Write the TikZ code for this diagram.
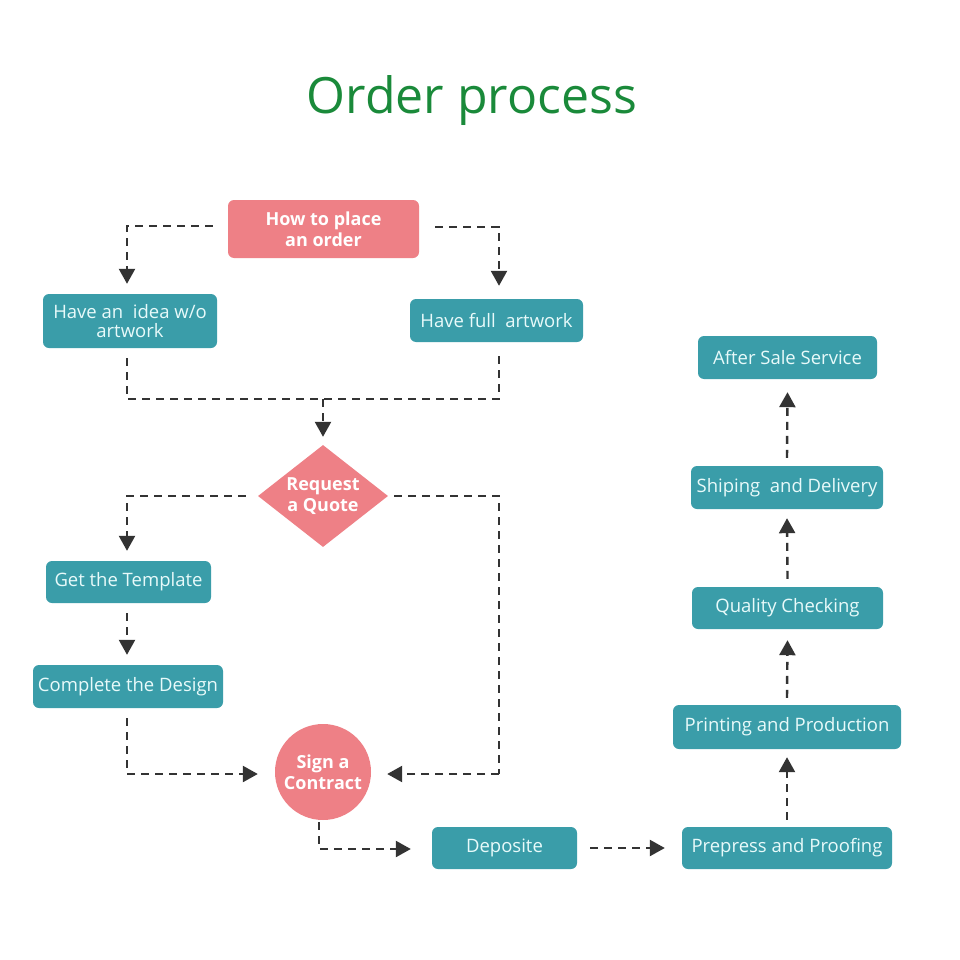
\documentclass[tikz,border=0pt]{standalone}
\usepackage{fontspec}
\setmainfont{Open Sans}
\usetikzlibrary{arrows.meta,shapes.geometric,calc}
\definecolor{teal1}{HTML}{3A9DA9}
\definecolor{pink1}{HTML}{EE8086}
\definecolor{boxtext}{HTML}{E8FAFA}
\definecolor{dark1}{HTML}{333333}
\definecolor{green1}{HTML}{1A8A3A}
\tikzset{
  tbox/.style={fill=teal1, rounded corners=6pt, text=boxtext, align=center,
    font=\fontsize{18.5}{19.5}\selectfont, inner sep=0pt},
  pinktext/.style={text=white, align=center, font=\bfseries\fontsize{18}{20.5}\selectfont},
  pbox/.style={fill=pink1, rounded corners=6pt, pinktext, inner sep=0pt},
  dline/.style={draw=dark1, line width=2.4pt, dash pattern=on 8pt off 6pt},
  conn/.style={dline, -{Triangle[length=15pt,width=16pt]}},
}
\begin{document}
\begin{tikzpicture}[x=1pt,y=-1pt]
\useasboundingbox (0,0) rectangle (960,960);
\fill[white] (0,0) rectangle (960,960);
\node[text=green1, font=\fontsize{50}{54}\selectfont] (title) at (472,101) {Order process};

\node[pbox, minimum width=191pt, minimum height=58pt] (how) at (323.5,229) {How to place\\an order};
\node[tbox, minimum width=174pt, minimum height=54pt] (idea) at (130,321) {Have an\ \ idea w/o\\artwork};
\node[tbox, minimum width=173pt, minimum height=43pt] (full) at (496.5,320.5) {Have full\ \ artwork};
\node[shape=diamond, fill=pink1, minimum width=130pt, minimum height=102pt, inner sep=0pt,
  label={[pinktext]center:Request\\a Quote}] (quote) at (323,496) {};
\node[tbox, minimum width=165pt, minimum height=42pt] (tmpl) at (128.5,582) {Get the Template};
\node[tbox, minimum width=190pt, minimum height=43pt] (compl) at (128,686.5) {Complete the Design};
\node[shape=circle, fill=pink1, minimum size=96pt, inner sep=0pt, pinktext] (sign) at (323,772) {Sign a\\Contract};
\node[tbox, minimum width=145pt, minimum height=42pt] (dep) at (504.5,848) {Deposite};
\node[tbox, minimum width=210pt, minimum height=42pt] (prep) at (787,848) {Prepress and Proofing};
\node[tbox, minimum width=228pt, minimum height=44pt] (print) at (787,727) {Printing and Production};
\node[tbox, minimum width=191pt, minimum height=42pt] (qual) at (787.5,608) {Quality Checking};
\node[tbox, minimum width=192pt, minimum height=43pt] (ship) at (787,487.5) {Shiping\ \ and Delivery};
\node[tbox, minimum width=179pt, minimum height=43pt] (after) at (787.5,357.5) {After Sale Service};

% top split
\draw[conn] ($(how.west)+(-15,-3)$) -| ($(idea.north)+(-3,-10)$);
\draw[conn] ($(how.east)+(16,-2)$) -| ($(full.north)+(2.5,-13)$);
% merge
\coordinate (m) at (323,399);
\draw[dline] ($(idea.south)+(-3,10)$) |- (m) -| ($(full.south)+(2.5,10)$);
\draw[conn] (m) -- ($(quote.north)+(0,-8)$);
% diamond split
\draw[conn] ($(quote.west)+(-12,0)$) -| ($(tmpl.north)+(-1.5,-10)$);
\draw[dline] ($(quote.east)+(6,0)$) -| (499,774) coordinate (r);
\draw[conn] (r) -- ($(sign.east)+(16,2)$);
\draw[conn] ($(tmpl.south)+(-1.5,10)$) -- ($(compl.north)+(-1,-10)$);
\draw[conn] ($(compl.south)+(-1,10)$) |- ($(sign.west)+(-17,2)$);
\draw[conn] ($(sign.south)+(-4,2)$) |- ($(dep.west)+(-21,1)$);
\draw[conn] ($(dep.east)+(13,0)$) -- ($(prep.west)+(-17,0)$);
\draw[conn] ($(prep.north)+(0,-7)$) -- ($(print.south)+(0,8)$);
\draw[conn] ($(print.north)+(0,-7)$) -- ($(qual.south)+(0,11)$);
\draw[conn] ($(qual.north)+(0,-8)$) -- ($(ship.south)+(0,9)$);
\draw[conn] ($(ship.north)+(0,-8)$) -- ($(after.south)+(0,13)$);
\end{tikzpicture}
\end{document}
